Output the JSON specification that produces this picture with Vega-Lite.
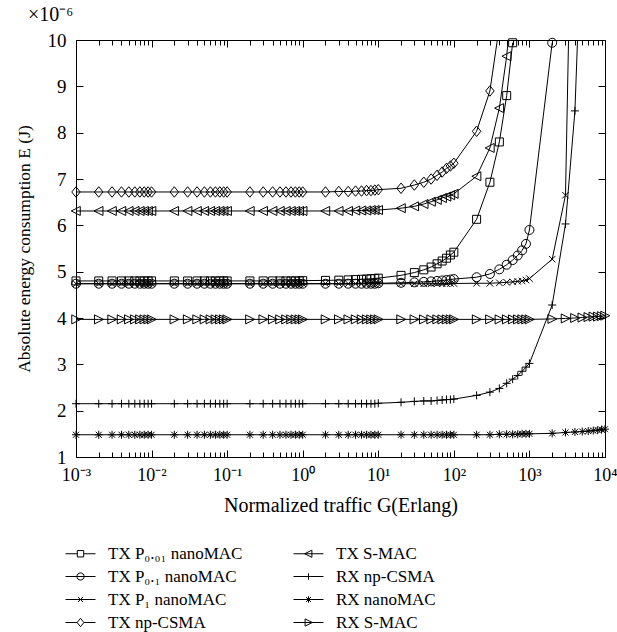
{
  "$schema": "https://vega.github.io/schema/vega-lite/v6.json",
  "width": 529,
  "height": 417,
  "padding": {"left": 15, "top": 5, "right": 0, "bottom": 5},
  "background": "white",
  "config": {
    "font": "Liberation Serif",
    "view": {"stroke": null},
    "axis": {
      "grid": false,
      "domainColor": "black",
      "domainWidth": 1,
      "tickColor": "black",
      "tickWidth": 1,
      "labelColor": "black",
      "titleColor": "black",
      "labelFont": "Liberation Serif",
      "titleFont": "Liberation Serif",
      "labelFontSize": 19,
      "titleFontSize": 17.5,
      "titleFontWeight": "normal",
      "labelFlush": false,
      "labelOverlap": false
    }
  },
  "title": {
    "text": "×10⁻⁶",
    "anchor": "start",
    "frame": "group",
    "dx": -48,
    "offset": 6,
    "fontSize": 20,
    "fontWeight": "normal",
    "font": "Liberation Serif",
    "color": "black"
  },
  "data": {
    "values": [
      {"G": 0.001, "TX_P0_01": 4.8, "TX_P0_1": 4.74, "TX_P1": 4.74, "TX_npCSMA": 6.72, "TX_SMAC": 6.31, "RX_npCSMA": 2.15, "RX_nanoMAC": 1.48, "RX_SMAC": 3.97},
      {"G": 0.002, "TX_P0_01": 4.8, "TX_P0_1": 4.74, "TX_P1": 4.74, "TX_npCSMA": 6.72, "TX_SMAC": 6.31, "RX_npCSMA": 2.15, "RX_nanoMAC": 1.48, "RX_SMAC": 3.97},
      {"G": 0.003, "TX_P0_01": 4.8, "TX_P0_1": 4.74, "TX_P1": 4.74, "TX_npCSMA": 6.72, "TX_SMAC": 6.31, "RX_npCSMA": 2.15, "RX_nanoMAC": 1.48, "RX_SMAC": 3.97},
      {"G": 0.004, "TX_P0_01": 4.8, "TX_P0_1": 4.74, "TX_P1": 4.74, "TX_npCSMA": 6.72, "TX_SMAC": 6.31, "RX_npCSMA": 2.15, "RX_nanoMAC": 1.48, "RX_SMAC": 3.97},
      {"G": 0.005, "TX_P0_01": 4.8, "TX_P0_1": 4.74, "TX_P1": 4.74, "TX_npCSMA": 6.72, "TX_SMAC": 6.31, "RX_npCSMA": 2.15, "RX_nanoMAC": 1.48, "RX_SMAC": 3.97},
      {"G": 0.006, "TX_P0_01": 4.8, "TX_P0_1": 4.74, "TX_P1": 4.74, "TX_npCSMA": 6.72, "TX_SMAC": 6.31, "RX_npCSMA": 2.15, "RX_nanoMAC": 1.48, "RX_SMAC": 3.97},
      {"G": 0.007, "TX_P0_01": 4.8, "TX_P0_1": 4.74, "TX_P1": 4.74, "TX_npCSMA": 6.72, "TX_SMAC": 6.31, "RX_npCSMA": 2.15, "RX_nanoMAC": 1.48, "RX_SMAC": 3.97},
      {"G": 0.008, "TX_P0_01": 4.8, "TX_P0_1": 4.74, "TX_P1": 4.74, "TX_npCSMA": 6.72, "TX_SMAC": 6.31, "RX_npCSMA": 2.15, "RX_nanoMAC": 1.48, "RX_SMAC": 3.97},
      {"G": 0.009, "TX_P0_01": 4.8, "TX_P0_1": 4.74, "TX_P1": 4.74, "TX_npCSMA": 6.72, "TX_SMAC": 6.31, "RX_npCSMA": 2.15, "RX_nanoMAC": 1.48, "RX_SMAC": 3.97},
      {"G": 0.01, "TX_P0_01": 4.8, "TX_P0_1": 4.74, "TX_P1": 4.74, "TX_npCSMA": 6.72, "TX_SMAC": 6.31, "RX_npCSMA": 2.15, "RX_nanoMAC": 1.48, "RX_SMAC": 3.97},
      {"G": 0.02, "TX_P0_01": 4.8, "TX_P0_1": 4.74, "TX_P1": 4.74, "TX_npCSMA": 6.72, "TX_SMAC": 6.31, "RX_npCSMA": 2.15, "RX_nanoMAC": 1.48, "RX_SMAC": 3.97},
      {"G": 0.03, "TX_P0_01": 4.8, "TX_P0_1": 4.74, "TX_P1": 4.74, "TX_npCSMA": 6.72, "TX_SMAC": 6.31, "RX_npCSMA": 2.15, "RX_nanoMAC": 1.48, "RX_SMAC": 3.97},
      {"G": 0.04, "TX_P0_01": 4.8, "TX_P0_1": 4.74, "TX_P1": 4.74, "TX_npCSMA": 6.72, "TX_SMAC": 6.31, "RX_npCSMA": 2.15, "RX_nanoMAC": 1.48, "RX_SMAC": 3.97},
      {"G": 0.05, "TX_P0_01": 4.8, "TX_P0_1": 4.74, "TX_P1": 4.74, "TX_npCSMA": 6.72, "TX_SMAC": 6.31, "RX_npCSMA": 2.15, "RX_nanoMAC": 1.48, "RX_SMAC": 3.97},
      {"G": 0.06, "TX_P0_01": 4.8, "TX_P0_1": 4.74, "TX_P1": 4.74, "TX_npCSMA": 6.72, "TX_SMAC": 6.31, "RX_npCSMA": 2.15, "RX_nanoMAC": 1.48, "RX_SMAC": 3.97},
      {"G": 0.07, "TX_P0_01": 4.8, "TX_P0_1": 4.74, "TX_P1": 4.74, "TX_npCSMA": 6.72, "TX_SMAC": 6.31, "RX_npCSMA": 2.15, "RX_nanoMAC": 1.48, "RX_SMAC": 3.97},
      {"G": 0.08, "TX_P0_01": 4.8, "TX_P0_1": 4.74, "TX_P1": 4.74, "TX_npCSMA": 6.72, "TX_SMAC": 6.31, "RX_npCSMA": 2.15, "RX_nanoMAC": 1.48, "RX_SMAC": 3.97},
      {"G": 0.09, "TX_P0_01": 4.8, "TX_P0_1": 4.74, "TX_P1": 4.74, "TX_npCSMA": 6.72, "TX_SMAC": 6.31, "RX_npCSMA": 2.15, "RX_nanoMAC": 1.48, "RX_SMAC": 3.97},
      {"G": 0.1, "TX_P0_01": 4.8, "TX_P0_1": 4.74, "TX_P1": 4.74, "TX_npCSMA": 6.72, "TX_SMAC": 6.31, "RX_npCSMA": 2.15, "RX_nanoMAC": 1.48, "RX_SMAC": 3.97},
      {"G": 0.2, "TX_P0_01": 4.8, "TX_P0_1": 4.74, "TX_P1": 4.74, "TX_npCSMA": 6.72, "TX_SMAC": 6.31, "RX_npCSMA": 2.15, "RX_nanoMAC": 1.48, "RX_SMAC": 3.97},
      {"G": 0.3, "TX_P0_01": 4.8, "TX_P0_1": 4.74, "TX_P1": 4.74, "TX_npCSMA": 6.72, "TX_SMAC": 6.31, "RX_npCSMA": 2.15, "RX_nanoMAC": 1.48, "RX_SMAC": 3.97},
      {"G": 0.4, "TX_P0_01": 4.8, "TX_P0_1": 4.74, "TX_P1": 4.74, "TX_npCSMA": 6.72, "TX_SMAC": 6.31, "RX_npCSMA": 2.15, "RX_nanoMAC": 1.48, "RX_SMAC": 3.97},
      {"G": 0.5, "TX_P0_01": 4.8, "TX_P0_1": 4.74, "TX_P1": 4.74, "TX_npCSMA": 6.72, "TX_SMAC": 6.31, "RX_npCSMA": 2.15, "RX_nanoMAC": 1.48, "RX_SMAC": 3.97},
      {"G": 0.6, "TX_P0_01": 4.8, "TX_P0_1": 4.74, "TX_P1": 4.74, "TX_npCSMA": 6.72, "TX_SMAC": 6.31, "RX_npCSMA": 2.15, "RX_nanoMAC": 1.48, "RX_SMAC": 3.97},
      {"G": 0.7, "TX_P0_01": 4.8, "TX_P0_1": 4.74, "TX_P1": 4.74, "TX_npCSMA": 6.72, "TX_SMAC": 6.31, "RX_npCSMA": 2.15, "RX_nanoMAC": 1.48, "RX_SMAC": 3.97},
      {"G": 0.8, "TX_P0_01": 4.8, "TX_P0_1": 4.74, "TX_P1": 4.74, "TX_npCSMA": 6.72, "TX_SMAC": 6.31, "RX_npCSMA": 2.15, "RX_nanoMAC": 1.48, "RX_SMAC": 3.97},
      {"G": 0.9, "TX_P0_01": 4.8, "TX_P0_1": 4.74, "TX_P1": 4.74, "TX_npCSMA": 6.72, "TX_SMAC": 6.31, "RX_npCSMA": 2.15, "RX_nanoMAC": 1.48, "RX_SMAC": 3.97},
      {"G": 1, "TX_P0_01": 4.806, "TX_P0_1": 4.74, "TX_P1": 4.74, "TX_npCSMA": 6.72, "TX_SMAC": 6.31, "RX_npCSMA": 2.15, "RX_nanoMAC": 1.48, "RX_SMAC": 3.97},
      {"G": 2, "TX_P0_01": 4.812, "TX_P0_1": 4.74, "TX_P1": 4.74, "TX_npCSMA": 6.72, "TX_SMAC": 6.31, "RX_npCSMA": 2.15, "RX_nanoMAC": 1.48, "RX_SMAC": 3.97},
      {"G": 3, "TX_P0_01": 4.817, "TX_P0_1": 4.74, "TX_P1": 4.74, "TX_npCSMA": 6.73, "TX_SMAC": 6.31, "RX_npCSMA": 2.15, "RX_nanoMAC": 1.48, "RX_SMAC": 3.97},
      {"G": 4, "TX_P0_01": 4.823, "TX_P0_1": 4.74, "TX_P1": 4.74, "TX_npCSMA": 6.73, "TX_SMAC": 6.31, "RX_npCSMA": 2.15, "RX_nanoMAC": 1.48, "RX_SMAC": 3.97},
      {"G": 5, "TX_P0_01": 4.829, "TX_P0_1": 4.74, "TX_P1": 4.74, "TX_npCSMA": 6.74, "TX_SMAC": 6.32, "RX_npCSMA": 2.15, "RX_nanoMAC": 1.48, "RX_SMAC": 3.97},
      {"G": 6, "TX_P0_01": 4.835, "TX_P0_1": 4.74, "TX_P1": 4.74, "TX_npCSMA": 6.74, "TX_SMAC": 6.32, "RX_npCSMA": 2.15, "RX_nanoMAC": 1.48, "RX_SMAC": 3.97},
      {"G": 7, "TX_P0_01": 4.841, "TX_P0_1": 4.74, "TX_P1": 4.74, "TX_npCSMA": 6.75, "TX_SMAC": 6.32, "RX_npCSMA": 2.15, "RX_nanoMAC": 1.48, "RX_SMAC": 3.97},
      {"G": 8, "TX_P0_01": 4.847, "TX_P0_1": 4.74, "TX_P1": 4.74, "TX_npCSMA": 6.75, "TX_SMAC": 6.33, "RX_npCSMA": 2.15, "RX_nanoMAC": 1.48, "RX_SMAC": 3.97},
      {"G": 9, "TX_P0_01": 4.853, "TX_P0_1": 4.74, "TX_P1": 4.74, "TX_npCSMA": 6.76, "TX_SMAC": 6.33, "RX_npCSMA": 2.15, "RX_nanoMAC": 1.48, "RX_SMAC": 3.97},
      {"G": 10, "TX_P0_01": 4.86, "TX_P0_1": 4.75, "TX_P1": 4.74, "TX_npCSMA": 6.77, "TX_SMAC": 6.33, "RX_npCSMA": 2.16, "RX_nanoMAC": 1.48, "RX_SMAC": 3.97},
      {"G": 20, "TX_P0_01": 4.92, "TX_P0_1": 4.76, "TX_P1": 4.74, "TX_npCSMA": 6.8, "TX_SMAC": 6.37, "RX_npCSMA": 2.18, "RX_nanoMAC": 1.48, "RX_SMAC": 3.97},
      {"G": 30, "TX_P0_01": 4.98, "TX_P0_1": 4.77, "TX_P1": 4.74, "TX_npCSMA": 6.87, "TX_SMAC": 6.41, "RX_npCSMA": 2.2, "RX_nanoMAC": 1.48, "RX_SMAC": 3.97},
      {"G": 40, "TX_P0_01": 5.04, "TX_P0_1": 4.78, "TX_P1": 4.74, "TX_npCSMA": 6.93, "TX_SMAC": 6.46, "RX_npCSMA": 2.21, "RX_nanoMAC": 1.48, "RX_SMAC": 3.97},
      {"G": 50, "TX_P0_01": 5.1, "TX_P0_1": 4.79, "TX_P1": 4.74, "TX_npCSMA": 7.0, "TX_SMAC": 6.51, "RX_npCSMA": 2.21, "RX_nanoMAC": 1.48, "RX_SMAC": 3.97},
      {"G": 60, "TX_P0_01": 5.17, "TX_P0_1": 4.8, "TX_P1": 4.74, "TX_npCSMA": 7.08, "TX_SMAC": 6.55, "RX_npCSMA": 2.22, "RX_nanoMAC": 1.48, "RX_SMAC": 3.97},
      {"G": 70, "TX_P0_01": 5.23, "TX_P0_1": 4.81, "TX_P1": 4.74, "TX_npCSMA": 7.15, "TX_SMAC": 6.59, "RX_npCSMA": 2.23, "RX_nanoMAC": 1.48, "RX_SMAC": 3.97},
      {"G": 80, "TX_P0_01": 5.29, "TX_P0_1": 4.82, "TX_P1": 4.74, "TX_npCSMA": 7.23, "TX_SMAC": 6.62, "RX_npCSMA": 2.24, "RX_nanoMAC": 1.48, "RX_SMAC": 3.97},
      {"G": 90, "TX_P0_01": 5.36, "TX_P0_1": 4.83, "TX_P1": 4.745, "TX_npCSMA": 7.28, "TX_SMAC": 6.65, "RX_npCSMA": 2.24, "RX_nanoMAC": 1.48, "RX_SMAC": 3.97},
      {"G": 100, "TX_P0_01": 5.42, "TX_P0_1": 4.84, "TX_P1": 4.745, "TX_npCSMA": 7.34, "TX_SMAC": 6.68, "RX_npCSMA": 2.25, "RX_nanoMAC": 1.48, "RX_SMAC": 3.97},
      {"G": 200, "TX_P0_01": 6.13, "TX_P0_1": 4.88, "TX_P1": 4.75, "TX_npCSMA": 8.03, "TX_SMAC": 7.06, "RX_npCSMA": 2.33, "RX_nanoMAC": 1.48, "RX_SMAC": 3.97},
      {"G": 300, "TX_P0_01": 6.93, "TX_P0_1": 4.95, "TX_P1": 4.75, "TX_npCSMA": 8.9, "TX_SMAC": 7.67, "RX_npCSMA": 2.4, "RX_nanoMAC": 1.48, "RX_SMAC": 3.97},
      {"G": 400, "TX_P0_01": 7.8, "TX_P0_1": 5.05, "TX_P1": 4.76, "TX_npCSMA": 10.3, "TX_SMAC": 8.53, "RX_npCSMA": 2.48, "RX_nanoMAC": 1.49, "RX_SMAC": 3.97},
      {"G": 500, "TX_P0_01": 8.8, "TX_P0_1": 5.15, "TX_P1": 4.77, "TX_SMAC": 9.65, "RX_npCSMA": 2.59, "RX_nanoMAC": 1.49, "RX_SMAC": 3.97},
      {"G": 600, "TX_P0_01": 9.94, "TX_P0_1": 5.25, "TX_P1": 4.78, "TX_SMAC": 11.0, "RX_npCSMA": 2.68, "RX_nanoMAC": 1.49, "RX_SMAC": 3.97},
      {"G": 700, "TX_P0_1": 5.35, "TX_P1": 4.79, "RX_npCSMA": 2.76, "RX_nanoMAC": 1.49, "RX_SMAC": 3.97},
      {"G": 800, "TX_P0_1": 5.46, "TX_P1": 4.8, "RX_npCSMA": 2.85, "RX_nanoMAC": 1.5, "RX_SMAC": 3.97},
      {"G": 900, "TX_P0_1": 5.6, "TX_P1": 4.82, "RX_npCSMA": 2.94, "RX_nanoMAC": 1.5, "RX_SMAC": 3.97},
      {"G": 1000, "TX_P0_1": 5.9, "TX_P1": 4.85, "RX_npCSMA": 3.02, "RX_nanoMAC": 1.5, "RX_SMAC": 3.97},
      {"G": 2000, "TX_P0_1": 9.94, "TX_P1": 5.27, "RX_npCSMA": 4.28, "RX_nanoMAC": 1.51, "RX_SMAC": 3.98},
      {"G": 3000, "TX_P1": 6.65, "RX_npCSMA": 6.03, "RX_nanoMAC": 1.53, "RX_SMAC": 3.99},
      {"G": 4000, "TX_P1": 17.0, "RX_npCSMA": 8.47, "RX_nanoMAC": 1.54, "RX_SMAC": 4.0},
      {"G": 5000, "RX_npCSMA": 12.8, "RX_nanoMAC": 1.55, "RX_SMAC": 4.01},
      {"G": 6000, "RX_nanoMAC": 1.56, "RX_SMAC": 4.02},
      {"G": 7000, "RX_nanoMAC": 1.57, "RX_SMAC": 4.03},
      {"G": 8000, "RX_nanoMAC": 1.58, "RX_SMAC": 4.03},
      {"G": 9000, "RX_nanoMAC": 1.59, "RX_SMAC": 4.04},
      {"G": 10000, "RX_nanoMAC": 1.6, "RX_SMAC": 4.05}
    ]
  },
  "transform": [
    {"fold": ["TX_P0_01", "TX_P0_1", "TX_P1", "TX_npCSMA", "TX_SMAC", "RX_npCSMA", "RX_nanoMAC", "RX_SMAC"], "as": ["series", "E"]},
    {"filter": "isValid(datum.E)"}
  ],
  "layer": [
    {
      "mark": {"type": "line", "color": "black", "strokeWidth": 1, "clip": true},
      "encoding": {
        "x": {
          "field": "G", "type": "quantitative",
          "scale": {"type": "log", "domain": [0.001, 10000], "nice": false},
          "axis": {
            "orient": "bottom",
            "title": "Normalized traffic G(Erlang)",
            "titleFontSize": 20,
            "titlePadding": 9,
            "labelFontSize": 18,
            "values": [0.001,0.002,0.003,0.004,0.005,0.006,0.007,0.008,0.009,0.01,0.02,0.03,0.04,0.05,0.06,0.07,0.08,0.09,0.1,0.2,0.3,0.4,0.5,0.6,0.7,0.8,0.9,1,2,3,4,5,6,7,8,9,10,20,30,40,50,60,70,80,90,100,200,300,400,500,600,700,800,900,1000,2000,3000,4000,5000,6000,7000,8000,9000,10000],
            "labelExpr": "abs(log(datum.value)/LN10 - round(log(datum.value)/LN10)) < 0.001 ? ['10⁻³','10⁻²','10⁻¹','10⁰','10¹','10²','10³','10⁴'][round(log(datum.value)/LN10)+3] : ''",
            "tickSize": {"condition": {"test": "abs(log(datum.value)/LN10 - round(log(datum.value)/LN10)) < 0.001", "value": -7}, "value": -5},
            "labelPadding": 16
          }
        },
        "y": {
          "field": "E", "type": "quantitative",
          "scale": {"domain": [1, 10], "nice": false, "zero": false},
          "axis": {
            "orient": "left",
            "title": "Absolute energy consumption E (J)",
            "values": [1,2,3,4,5,6,7,8,9,10],
            "tickSize": -7,
            "labelPadding": 17,
            "titlePadding": 14
          }
        },
        "detail": {"field": "series"}
      }
    },
    {
      "transform": [{"filter": "datum.E <= 10"}],
      "mark": {"type": "point", "filled": false, "stroke": "black", "strokeWidth": 1, "size": 100, "opacity": 1},
      "encoding": {
        "x": {
          "field": "G", "type": "quantitative",
          "scale": {"type": "log", "domain": [0.001, 10000], "nice": false},
          "axis": {
            "orient": "top",
            "title": null,
            "labels": false,
            "values": [0.001,0.002,0.003,0.004,0.005,0.006,0.007,0.008,0.009,0.01,0.02,0.03,0.04,0.05,0.06,0.07,0.08,0.09,0.1,0.2,0.3,0.4,0.5,0.6,0.7,0.8,0.9,1,2,3,4,5,6,7,8,9,10,20,30,40,50,60,70,80,90,100,200,300,400,500,600,700,800,900,1000,2000,3000,4000,5000,6000,7000,8000,9000,10000],
            "tickSize": {"condition": {"test": "abs(log(datum.value)/LN10 - round(log(datum.value)/LN10)) < 0.001", "value": -7}, "value": -5}
          }
        },
        "y": {
          "field": "E", "type": "quantitative",
          "scale": {"domain": [1, 10], "nice": false, "zero": false},
          "axis": {"orient": "right", "title": null, "labels": false, "values": [1,2,3,4,5,6,7,8,9,10], "tickSize": -7}
        },
        "shape": {
          "field": "series", "type": "nominal",
          "scale": {
            "domain": ["TX_P0_01", "TX_P0_1", "TX_P1", "TX_npCSMA", "TX_SMAC", "RX_npCSMA", "RX_nanoMAC", "RX_SMAC"],
            "range": [
              "M-0.8,-0.8H0.8V0.8H-0.8Z",
              "M-0.9,0A0.9,0.9,0,1,0,0.9,0A0.9,0.9,0,1,0,-0.9,0Z",
              "M-0.65,-0.65L0.65,0.65M-0.65,0.65L0.65,-0.65",
              "M0,-1.05L0.85,0L0,1.05L-0.85,0Z",
              "M-0.95,0L0.85,-0.9L0.85,0.9Z",
              "M-0.8,0H0.8M0,-0.8V0.8",
              "M-0.8,0H0.8M0,-0.8V0.8M-0.6,-0.6L0.6,0.6M-0.6,0.6L0.6,-0.6",
              "M0.95,0L-0.85,-0.9L-0.85,0.9Z"
            ]
          },
          "legend": null
        }
      }
    },
    {
      "transform": [{"filter": "datum.G == 0.001"}],
      "mark": {"type": "point", "filled": false, "stroke": "black", "strokeWidth": 1, "size": 100, "opacity": 0},
      "encoding": {
        "x": {"field": "G", "type": "quantitative", "scale": {"type": "log", "domain": [0.001, 10000], "nice": false}, "axis": null},
        "y": {"field": "E", "type": "quantitative", "scale": {"domain": [1, 10], "nice": false, "zero": false}, "axis": null},
        "shape": {
          "field": "series", "type": "nominal",
          "scale": {
            "domain": ["TX_P0_01", "TX_P0_1", "TX_P1", "TX_npCSMA", "TX_SMAC", "RX_npCSMA", "RX_nanoMAC", "RX_SMAC"],
            "range": [
              "M-0.8,-0.8H0.8V0.8H-0.8ZM-3.75,0L-0.8,0M0.8,0L3.75,0",
              "M-0.9,0A0.9,0.9,0,1,0,0.9,0A0.9,0.9,0,1,0,-0.9,0ZM-3.75,0L3.75,0",
              "M-0.65,-0.65L0.65,0.65M-0.65,0.65L0.65,-0.65M-3.75,0L3.75,0",
              "M0,-1.05L0.85,0L0,1.05L-0.85,0ZM-3.75,0L-0.85,0M0.85,0L3.75,0",
              "M-0.95,0L0.85,-0.9L0.85,0.9ZM-3.75,0L3.75,0",
              "M-0.8,0H0.8M0,-0.8V0.8M-3.75,0L3.75,0",
              "M-0.8,0H0.8M0,-0.8V0.8M-0.6,-0.6L0.6,0.6M-0.6,0.6L0.6,-0.6M-3.75,0L3.75,0",
              "M0.95,0L-0.85,-0.9L-0.85,0.9ZM-3.75,0L3.75,0"
            ]
          },
          "legend": {
            "title": null,
            "orient": "none",
            "legendX": -15,
            "legendY": 505,
            "direction": "vertical",
            "columns": 2,
            "columnPadding": 46,
            "rowPadding": 5,
            "symbolSize": 64,
            "symbolOpacity": 1,
            "symbolStrokeColor": "black",
            "symbolFillColor": "transparent",
            "symbolStrokeWidth": 1,
            "symbolOffset": 11,
            "labelOffset": 19,
            "labelFontSize": 17,
            "labelFont": "Liberation Serif",
            "labelColor": "black",
            "labelLimit": 300,
            "labelExpr": "{'TX_P0_01':'TX P₀.₀₁ nanoMAC','TX_P0_1':'TX P₀.₁ nanoMAC','TX_P1':'TX P₁ nanoMAC','TX_npCSMA':'TX np-CSMA','TX_SMAC':'TX S-MAC','RX_npCSMA':'RX np-CSMA','RX_nanoMAC':'RX nanoMAC','RX_SMAC':'RX S-MAC'}[datum.value]"
          }
        }
      }
    }
  ],
  "resolve": {"axis": {"x": "independent", "y": "independent"}, "scale": {"shape": "independent"}}
}
